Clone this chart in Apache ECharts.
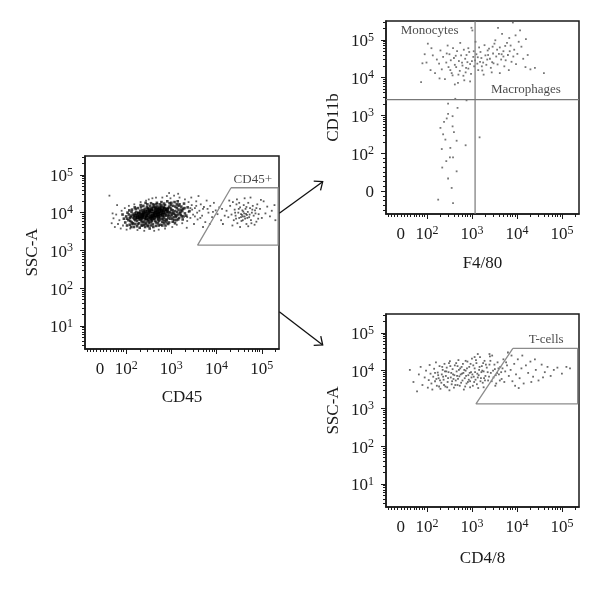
<!DOCTYPE html>
<html><head><meta charset="utf-8">
<script src="https://cdn.jsdelivr.net/npm/echarts@6/dist/echarts.min.js"></script>
<style>html,body{margin:0;padding:0;background:#fff}#c{width:600px;height:592px}</style>
</head><body><div id="c"></div>
<script>
// All coordinates are in log-decade display units of the (biexponential) cytometry scale.
// ---- Panel 1: SSC-A vs CD45 ----
const p1DeepCore = [[2.30,3.90],[2.35,3.95],[2.40,3.88],[2.42,4.02],[2.47,3.93],[2.50,3.99],[2.52,4.06],[2.55,3.90],[2.58,3.97],[2.60,4.04],[2.63,3.93],[2.66,4.00],[2.68,4.08],[2.70,3.95],[2.73,4.03],[2.76,3.98],[2.79,4.07],[2.82,4.01],[2.85,4.10],[2.45,3.85],[2.38,4.00],[2.33,3.86],[2.28,3.97],[2.25,3.88],[2.56,4.10],[2.62,3.86],[2.71,3.89],[2.80,3.94],[2.88,4.03],[2.91,4.08],[2.48,4.08],[2.53,3.84],[2.44,3.97],[2.65,4.12],[2.74,4.12],[2.20,3.92],[2.36,3.92],[2.59,3.91],[2.69,4.02],[2.77,4.05]];
const p1Core = [[2.05,3.80],[2.10,3.88],[2.12,3.75],[2.15,3.95],[2.18,3.83],[2.20,3.70],[2.22,4.02],[2.24,3.78],[2.27,3.92],[2.29,3.72],[2.31,4.05],[2.32,3.81],[2.34,3.66],[2.37,3.98],[2.39,3.76],[2.41,4.10],[2.43,3.70],[2.44,3.89],[2.46,4.15],[2.48,3.79],[2.49,3.64],[2.51,4.00],[2.53,4.18],[2.54,3.74],[2.56,3.86],[2.57,4.08],[2.59,3.69],[2.61,3.95],[2.62,4.20],[2.64,3.78],[2.65,4.05],[2.67,3.88],[2.69,4.16],[2.70,3.72],[2.72,3.99],[2.74,4.22],[2.75,3.82],[2.77,3.93],[2.79,4.14],[2.80,3.76],[2.82,4.05],[2.84,3.87],[2.86,4.20],[2.88,3.95],[2.90,3.80],[2.92,4.12],[2.94,4.00],[2.96,4.25],[2.98,3.90],[3.00,4.08],[3.02,3.84],[3.04,4.18],[3.06,3.97],[3.08,4.04],[3.10,3.88],[3.12,4.12],[3.15,3.95],[3.18,4.22],[3.20,4.02],[3.23,3.90],[3.26,4.10],[3.30,3.98],[2.00,3.90],[1.98,3.74],[2.03,4.00],[2.08,3.68],[2.13,4.08],[2.17,3.62],[2.23,3.87],[2.26,4.12],[2.30,3.60],[2.35,3.85],[2.38,4.18],[2.42,3.62],[2.47,4.22],[2.52,3.58],[2.55,4.25],[2.58,3.82],[2.60,3.62],[2.66,3.65],[2.68,4.26],[2.71,3.84],[2.76,3.68],[2.78,4.28],[2.83,3.72],[2.87,3.66],[2.91,4.30],[2.95,3.74],[2.99,4.20],[3.03,3.76],[3.07,4.28],[3.11,3.80],[3.14,4.30],[3.17,3.86],[3.22,4.16],[3.25,3.82],[3.28,4.24],[3.33,3.92],[3.36,4.14],[3.40,4.04],[2.14,3.70],[2.19,3.98],[2.28,3.82],[2.33,4.14],[2.40,3.68],[2.45,4.04],[2.50,3.72],[2.63,4.14],[2.73,3.78],[2.81,3.90],[2.85,3.78],[2.89,4.08],[2.93,3.86],[2.97,4.02],[3.01,3.94],[3.05,3.88],[3.09,4.16],[3.13,4.02],[3.16,4.08],[3.21,3.94],[3.24,4.04],[3.29,4.12],[1.95,3.84],[1.92,3.95],[2.02,3.66],[2.07,4.06],[2.11,3.92],[2.16,3.86],[2.21,4.10],[2.36,3.74],[2.53,3.92],[2.57,3.77],[2.64,3.92],[2.75,4.09],[2.83,4.16],[2.92,3.92]];
const p1CoreFill = [[2.02,3.84],[2.06,3.95],[2.09,3.78],[2.12,4.02],[2.15,3.72],[2.17,3.90],[2.20,3.80],[2.23,3.96],[2.26,3.70],[2.29,3.86],[2.31,3.98],[2.34,3.78],[2.37,3.90],[2.39,4.06],[2.41,3.82],[2.44,3.74],[2.46,3.92],[2.49,4.12],[2.51,3.86],[2.54,4.02],[2.56,3.80],[2.59,4.15],[2.61,3.84],[2.64,4.00],[2.66,3.74],[2.69,3.92],[2.71,4.10],[2.74,3.88],[2.76,4.16],[2.79,3.84],[2.81,3.98],[2.84,4.12],[2.87,3.92],[2.89,3.74],[2.92,4.02],[2.95,4.16],[2.97,3.84],[3.00,3.98],[3.03,4.06],[3.06,3.80],[3.09,3.94],[3.12,4.22],[3.15,3.82],[3.19,3.98],[3.22,4.08],[3.27,3.90],[2.08,3.86],[2.11,3.62],[2.19,4.14],[2.24,3.64],[2.32,4.20],[2.36,3.66],[2.43,4.26],[2.47,3.66],[2.55,3.66],[2.60,4.22],[2.67,4.22],[2.72,3.66],[2.80,3.66],[2.84,4.24],[2.93,3.70],[3.00,4.26],[3.08,3.72],[3.16,4.18],[2.27,4.00],[2.35,4.06],[2.50,3.77],[2.62,3.98],[2.70,3.80],[2.78,4.20],[2.88,3.82],[2.94,3.94],[3.04,4.00],[3.11,3.92],[2.40,3.94],[2.57,3.88],[2.73,3.94],[2.86,3.96],[2.22,3.84],[2.46,3.82],[2.52,4.04],[2.68,3.96],[2.82,3.82],[2.98,4.12]];
const p1Halo = [[1.68,3.72],[1.72,3.85],[1.75,3.62],[1.78,3.95],[1.82,3.70],[1.85,3.80],[1.88,3.58],[1.90,4.05],[1.93,3.66],[1.97,4.12],[2.01,3.55],[2.06,4.18],[2.09,3.58],[2.18,4.22],[2.25,3.54],[2.32,4.28],[2.40,3.52],[2.44,4.32],[2.50,4.35],[2.58,4.38],[2.66,4.40],[2.62,3.52],[2.72,3.55],[2.80,4.40],[2.86,3.58],[2.90,4.44],[2.98,4.38],[3.02,3.62],[3.06,4.45],[3.12,3.68],[3.18,4.40],[3.24,3.72],[3.30,4.35],[3.35,3.78],[3.38,4.28],[3.42,3.86],[3.45,4.20],[3.48,3.95],[3.52,4.12],[3.55,4.30],[3.58,3.82],[3.62,4.05],[3.65,4.22],[3.68,3.92],[3.72,4.15],[3.75,3.75],[3.78,4.32],[3.82,4.00],[3.86,4.18],[3.90,3.88],[3.94,4.26],[3.98,4.06],[4.02,3.96],[4.06,4.14],[3.44,4.40],[3.60,4.44],[3.34,3.60],[3.50,3.70],[3.15,4.50],[2.95,4.52],[3.70,3.62],[3.85,3.70],[1.80,4.20],[1.70,3.98],[3.38,4.02],[3.46,4.08],[3.52,3.90],[3.57,4.00],[3.64,3.86],[3.70,4.10],[3.35,3.88],[3.42,4.12],[3.55,4.18],[3.80,4.10],[3.92,4.02],[1.63,4.45],[4.10,3.80]];
const p1Positive = [[4.22,4.05],[4.26,3.88],[4.30,4.18],[4.33,3.95],[4.36,4.28],[4.38,3.80],[4.40,4.08],[4.42,3.92],[4.44,4.22],[4.46,3.72],[4.48,4.00],[4.50,3.86],[4.52,4.14],[4.54,3.96],[4.55,3.78],[4.57,4.06],[4.58,3.90],[4.60,4.20],[4.61,3.98],[4.63,3.84],[4.64,4.10],[4.66,3.70],[4.67,3.94],[4.69,4.02],[4.70,4.26],[4.72,3.88],[4.74,4.12],[4.76,3.80],[4.78,4.00],[4.80,4.18],[4.82,3.92],[4.85,4.06],[4.88,3.76],[4.90,4.22],[4.93,3.96],[4.96,4.10],[5.00,3.86],[5.04,4.30],[5.08,3.98],[5.12,4.16],[5.18,3.90],[5.22,4.05],[4.45,4.35],[4.62,4.38],[4.75,4.40],[4.35,3.66],[4.52,3.62],[4.70,3.64],[4.84,3.68],[4.98,4.34],[4.56,3.94],[4.59,4.03],[4.62,3.90],[4.65,3.97],[4.68,3.86],[4.54,3.88],[4.49,4.10],[4.41,4.00],[4.73,3.95],[4.79,4.08],[4.86,3.98],[4.92,3.84],[4.28,4.32],[4.18,3.92],[4.12,4.10],[4.14,3.70],[5.28,4.20],[5.30,3.80],[4.58,3.80],[4.66,4.15],[4.50,4.26],[4.43,3.84],[4.77,3.72],[4.88,4.12]];
const gateCD45 = [[4.32,4.66],[5.36,4.66],[5.36,3.14],[3.58,3.14],[4.32,4.66]];

// ---- Panel 2: CD11b vs F4/80 ----
const p2Upper = [[1.87,3.88],[1.90,4.38],[1.99,4.40],[2.02,4.90],[2.08,4.20],[2.13,4.59],[2.18,4.12],[2.22,4.48],[2.27,4.37],[2.30,4.72],[2.33,4.22],[2.36,4.55],[2.40,3.96],[2.43,4.40],[2.46,4.85],[2.48,4.28],[2.50,4.62],[2.53,4.46],[2.55,4.12],[2.57,4.06],[2.60,4.52],[2.62,4.34],[2.65,4.28],[2.67,4.70],[2.69,3.86],[2.71,4.44],[2.73,4.18],[2.76,4.59],[2.78,4.40],[2.79,4.32],[2.81,4.05],[2.83,3.93],[2.85,4.50],[2.87,4.26],[2.90,4.41],[2.92,4.78],[2.94,4.68],[2.96,4.36],[2.98,4.10],[3.01,5.25],[3.03,4.55],[3.05,4.30],[3.07,4.46],[3.10,4.62],[3.12,4.37],[3.14,4.20],[3.16,4.80],[3.19,4.68],[3.21,4.52],[3.23,4.19],[3.25,4.40],[3.28,4.86],[3.30,4.59],[3.32,4.34],[3.35,4.72],[3.38,4.77],[3.40,4.50],[3.42,4.26],[3.45,4.41],[3.47,4.64],[3.50,4.90],[3.52,4.99],[3.54,4.56],[3.57,4.35],[3.60,4.63],[3.62,4.80],[3.65,4.48],[3.67,5.16],[3.70,4.70],[3.72,4.30],[3.75,4.46],[3.78,4.92],[3.80,4.60],[3.83,5.05],[3.86,4.85],[3.88,4.42],[3.91,5.46],[3.94,4.74],[3.97,5.12],[4.01,4.63],[4.04,4.95],[4.07,5.25],[4.10,4.82],[4.14,4.50],[4.19,4.28],[4.24,4.60],[4.30,4.22],[4.40,4.26],[2.99,5.32],[3.58,5.32],[2.58,4.78],[2.74,4.92],[2.88,4.60],[3.08,4.95],[3.26,4.08],[3.44,4.14],[3.62,4.12],[3.82,4.20],[3.98,4.36],[2.44,4.64],[2.64,4.58],[2.82,4.74],[3.00,4.44],[3.18,4.42],[3.36,4.60],[3.48,4.38],[3.66,4.62],[3.84,4.70],[2.70,4.08],[2.92,4.24],[3.13,4.54],[3.34,4.48],[3.56,4.74],[3.74,4.84],[2.52,4.20],[2.86,4.14],[3.04,4.70],[3.22,4.30],[3.46,4.82],[3.70,4.56],[3.92,4.56],[2.10,4.78],[2.28,3.98],[2.62,3.82],[2.96,3.90],[1.95,4.62],[4.60,4.12],[4.20,5.02]];
const p2Lower = [[2.47,3.31],[2.63,3.44],[2.47,3.04],[2.57,2.98],[2.88,3.40],[2.30,2.67],[2.57,2.71],[2.38,2.83],[2.41,2.36],[2.66,2.33],[2.33,2.11],[2.52,2.14],[2.51,1.89],[2.58,1.89],[2.86,2.21],[3.17,2.42],[2.43,1.79],[2.47,1.33],[2.66,1.52],[2.55,1.08],[2.25,0.77],[2.58,0.68],[2.36,2.50],[2.44,2.92],[2.60,2.56],[2.34,1.62],[2.68,3.20]];
const quadF480 = 3.07;   // vertical quadrant gate (F4/80)
const quadCD11b = 3.42;  // horizontal quadrant gate (CD11b)

// ---- Panel 3: SSC-A vs CD4/8 ----
const p3Cells = [[1.62,4.02],[1.70,3.70],[1.78,3.45],[1.82,3.90],[1.86,4.10],[1.90,3.62],[1.95,3.82],[1.98,4.00],[2.02,3.55],[2.04,3.75],[2.06,4.15],[2.08,3.92],[2.10,3.66],[2.12,3.50],[2.14,3.84],[2.16,4.05],[2.18,3.72],[2.20,4.22],[2.22,3.60],[2.24,3.95],[2.26,3.80],[2.28,4.12],[2.30,3.52],[2.32,3.68],[2.33,3.90],[2.35,4.02],[2.37,3.76],[2.39,4.18],[2.41,3.58],[2.42,3.86],[2.44,4.08],[2.46,3.70],[2.48,3.96],[2.50,3.48],[2.51,4.25],[2.53,3.82],[2.55,3.64],[2.57,4.04],[2.58,3.90],[2.60,3.55],[2.62,4.14],[2.64,3.74],[2.66,3.98],[2.68,3.62],[2.70,4.28],[2.72,3.85],[2.74,4.06],[2.76,3.68],[2.78,3.92],[2.80,4.18],[2.82,3.50],[2.84,3.80],[2.86,4.00],[2.88,3.66],[2.90,4.24],[2.92,3.88],[2.94,4.10],[2.96,3.72],[2.98,3.96],[3.00,4.32],[3.02,3.60],[3.04,3.84],[3.06,4.06],[3.08,3.76],[3.10,4.20],[3.12,3.92],[3.14,3.54],[3.16,4.02],[3.18,4.36],[3.20,3.80],[3.22,4.12],[3.24,3.68],[3.26,3.98],[3.28,4.26],[3.30,3.86],[3.33,4.08],[3.36,3.74],[3.39,4.16],[3.42,3.94],[3.45,4.40],[3.48,3.82],[3.51,4.04],[3.54,3.66],[3.57,4.22],[3.60,3.90],[3.63,4.10],[3.66,3.78],[3.70,4.30],[3.74,3.98],[3.78,4.14],[3.82,3.86],[2.25,3.88],[2.29,3.74],[2.34,4.10],[2.38,3.62],[2.43,3.98],[2.47,3.80],[2.52,4.12],[2.56,3.72],[2.61,3.88],[2.65,4.20],[2.69,3.78],[2.73,3.60],[2.77,4.10],[2.81,3.94],[2.85,3.58],[2.89,4.06],[2.93,3.76],[2.97,4.18],[3.01,3.90],[3.05,3.70],[3.09,4.28],[3.13,3.82],[3.17,4.10],[3.21,3.96],[3.25,4.20],[3.29,3.74],[3.35,3.96],[3.41,4.26],[3.47,4.00],[3.53,3.88],[3.59,4.06],[3.65,3.96],[2.36,3.84],[2.40,3.98],[2.54,3.94],[2.59,3.78],[2.63,3.62],[2.67,3.86],[2.71,4.02],[2.75,3.90],[2.79,3.74],[2.83,4.02],[2.87,3.86],[2.91,3.70],[2.95,3.94],[2.99,3.82],[3.03,4.14],[3.07,3.96],[3.11,3.64],[3.15,3.88],[3.19,3.72],[3.23,4.00],[3.27,3.80],[3.31,4.16],[3.38,3.84],[3.44,3.72],[3.50,4.16],[3.56,3.94],[3.62,3.74],[3.68,4.06],[2.18,3.94],[2.21,3.78],[2.27,3.58],[2.45,3.56],[2.49,4.20],[2.68,4.12],[2.86,4.26],[2.96,3.56],[3.06,4.36],[3.26,3.56],[3.40,4.38],[3.52,3.60],[3.72,3.70],[3.76,4.22],[3.86,4.02],[3.90,3.72],[3.94,4.18],[3.98,3.90],[4.02,4.30],[4.06,3.80],[4.10,4.06],[4.15,3.66],[4.20,4.14],[4.25,3.94],[4.30,4.24],[4.36,3.84],[4.42,4.02],[4.48,3.74],[4.55,4.16],[4.62,3.96],[4.68,4.10],[4.75,3.86],[4.82,4.02],[4.90,4.08],[5.00,3.92],[5.10,4.10],[5.18,4.06],[3.88,4.40],[3.96,3.60],[4.12,4.40],[4.04,3.54],[4.40,4.30],[4.58,3.82],[4.32,3.70],[3.13,4.44],[3.39,4.44],[3.80,4.48]];
const gateTcells = [[3.91,4.59],[5.35,4.59],[5.35,3.12],[3.09,3.12],[3.91,4.59]];

// ---- Text ----
const gateLabels1 = [[4.80,4.87,'CD45+']];
const gateLabels2 = [[2.06,5.25,'Monocytes'],[4.20,3.69,'Macrophages']];
const gateLabels3 = [[4.65,4.83,'T-cells']];
const axisTitles = {p1:['CD45','SSC-A'], p2:['F4/80','CD11b'], p3:['CD4/8','SSC-A']};

// ---- Scales / ticks ----
const X_MIN = 1.09, X_MAX = 5.38, Y_MIN = 0.39, Y_MAX = 5.5;
const xLabelValues = [1.42, 2, 3, 4, 5];      // 0, 10^2 .. 10^5
const xMajorTicks = [2, 3, 4, 5];
const xLowTicks = [1.13,1.2,1.27,1.34,1.42,1.5,1.57,1.64,1.71,1.77,1.83,1.89,1.94];
const yLabelValuesLog = [1, 2, 3, 4, 5];       // 10^1 .. 10^5
const yLabelValuesBi = [1, 2, 3, 4, 5];        // 0, 10^2 .. 10^5
const yLowTicksBi = [0.5,0.62,0.75,0.87,1.0,1.13,1.25,1.38,1.5,1.62,1.75,1.87];

function logMinor(from, to, startDecade) {
  const out = [];
  for (let d = startDecade; d <= 5; d++) for (let k = 2; k <= 9; k++) {
    const v = d + Math.log10(k); if (v > from && v < to) out.push(v);
  }
  return out;
}
const xMinor = xLowTicks.concat(logMinor(X_MIN, X_MAX, 2));
const yMinorLog = logMinor(Y_MIN, Y_MAX, 0);
const yMinorBi = yLowTicksBi.concat(logMinor(2, Y_MAX, 2));

const F = "'Liberation Serif','DejaVu Serif',serif";
const INK = '#1a1a1a';
const rich = {
  b: {fontFamily: F, fontSize: 17, color: INK, lineHeight: 24},
  s: {fontFamily: F, fontSize: 12, color: INK, height: 15, lineHeight: 15, verticalAlign: 'top'}
};
const fmtX = v => v < 1.9 ? '{b|0}' : '{b|10}{s|' + Math.round(v) + '}';
const fmtYLog = v => '{b|10}{s|' + Math.round(v) + '}';
const fmtYBi = v => v < 1.5 ? '{b|0}' : '{b|10}{s|' + Math.round(v) + '}';

function xAxesFor(g, name, gap) {
  return [{
    type: 'value', gridIndex: g, position: 'bottom', min: X_MIN, max: X_MAX,
    name: name, nameLocation: 'middle', nameGap: gap,
    nameTextStyle: {fontFamily: F, fontSize: 17, color: INK},
    axisLine: {show: true, onZero: false, lineStyle: {color: INK, width: 1.5}},
    axisTick: {show: true, customValues: xMajorTicks, length: 5, lineStyle: {color: INK, width: 1}},
    axisLabel: {customValues: xLabelValues, formatter: fmtX, rich: rich, margin: 9, fontFamily: F},
    splitLine: {show: false}
  }, {
    type: 'value', gridIndex: g, position: 'bottom', min: X_MIN, max: X_MAX,
    axisLine: {show: false},
    axisTick: {show: true, customValues: xMinor, length: 3, lineStyle: {color: INK, width: 1}},
    axisLabel: {show: false}, splitLine: {show: false}
  }];
}
function yAxesFor(g, name, gap, labels, fmt, minor) {
  return [{
    type: 'value', gridIndex: g, position: 'left', min: Y_MIN, max: Y_MAX,
    name: name, nameLocation: 'middle', nameGap: gap,
    nameTextStyle: {fontFamily: F, fontSize: 17, color: INK},
    axisLine: {show: true, onZero: false, lineStyle: {color: INK, width: 1.5}},
    axisTick: {show: true, customValues: [1, 2, 3, 4, 5], length: 5, lineStyle: {color: INK, width: 1}},
    axisLabel: {customValues: labels, formatter: fmt, rich: rich, margin: 12, padding: [4, 0, 0, 0], fontFamily: F},
    splitLine: {show: false}
  }, {
    type: 'value', gridIndex: g, position: 'left', min: Y_MIN, max: Y_MAX,
    axisLine: {show: false},
    axisTick: {show: true, customValues: minor, length: 3, lineStyle: {color: INK, width: 1}},
    axisLabel: {show: false}, splitLine: {show: false}
  }];
}

function dots(g, data, size, color) {
  return {type: 'scatter', xAxisIndex: 2 * g, yAxisIndex: 2 * g, data: data, symbol: 'rect',
    symbolSize: size, itemStyle: {color: color}, silent: true, animation: false};
}
function poly(g, data, color) {
  return {type: 'line', xAxisIndex: 2 * g, yAxisIndex: 2 * g, data: data, symbol: 'none',
    lineStyle: {color: color, width: 1.3}, silent: true, animation: false, z: 5};
}
function texts(g, data) {
  return {type: 'scatter', xAxisIndex: 2 * g, yAxisIndex: 2 * g, data: data, symbolSize: 0.1,
    itemStyle: {color: 'transparent'}, silent: true, animation: false, z: 6,
    label: {show: true, position: 'inside', formatter: p => p.data[2],
      fontFamily: F, fontSize: 13, color: INK}};
}

function arrow(x1, y1, x2, y2) {
  const a = Math.atan2(y2 - y1, x2 - x1), L = 9, w = 0.7;
  return [
    {type: 'line', shape: {x1, y1, x2, y2}, style: {stroke: '#111', lineWidth: 1.3}},
    {type: 'polyline', shape: {points: [
      [x2 - L * Math.cos(a - w), y2 - L * Math.sin(a - w)], [x2, y2],
      [x2 - L * Math.cos(a + w), y2 - L * Math.sin(a + w)]]},
      style: {stroke: '#111', lineWidth: 1.3, fill: null}}
  ];
}

const gridStyle = {show: true, borderColor: INK, borderWidth: 1.5, backgroundColor: 'transparent', containLabel: false};
const option = {
  backgroundColor: '#fff',
  animation: false,
  grid: [
    Object.assign({left: 85, top: 156, width: 194, height: 193}, gridStyle),
    Object.assign({left: 386, top: 21, width: 193, height: 193}, gridStyle),
    Object.assign({left: 386, top: 314, width: 193, height: 193}, gridStyle)
  ],
  xAxis: [].concat(xAxesFor(0, axisTitles.p1[0], 40), xAxesFor(1, axisTitles.p2[0], 41), xAxesFor(2, axisTitles.p3[0], 43)),
  yAxis: [].concat(
    yAxesFor(0, axisTitles.p1[1], 44, yLabelValuesLog, fmtYLog, yMinorLog),
    yAxesFor(1, axisTitles.p2[1], 44, yLabelValuesBi, fmtYBi, yMinorBi),
    yAxesFor(2, axisTitles.p3[1], 44, yLabelValuesLog, fmtYLog, yMinorLog)),
  series: [
    dots(0, p1Halo, 1.8, '#3a3a3a'),
    dots(0, p1Core, 2.6, '#111'),
    dots(0, p1CoreFill, 2.6, '#111'),
    dots(0, p1DeepCore, 3.6, '#000'),
    dots(0, p1Positive, 1.8, '#333'),
    poly(0, gateCD45, '#8c8c8c'),
    texts(0, gateLabels1),
    dots(1, p2Upper, 1.8, '#555'),
    dots(1, p2Lower, 1.8, '#555'),
    {type: 'line', xAxisIndex: 2, yAxisIndex: 2, symbol: 'none', silent: true, animation: false, z: 5,
     data: [[quadF480, Y_MIN], [quadF480, Y_MAX]], lineStyle: {color: '#777', width: 1.2}},
    {type: 'line', xAxisIndex: 2, yAxisIndex: 2, symbol: 'none', silent: true, animation: false, z: 5,
     data: [[X_MIN, quadCD11b], [X_MAX, quadCD11b]], lineStyle: {color: '#777', width: 1.2}},
    texts(1, gateLabels2),
    dots(2, p3Cells, 1.8, '#444'),
    poly(2, gateTcells, '#8c8c8c'),
    texts(2, gateLabels3)
  ],
  graphic: [].concat(arrow(279.3, 213.3, 322.7, 181.7), arrow(279.3, 311.7, 322.7, 345))
};
const chart = echarts.init(document.getElementById('c'), null, {renderer: 'canvas'});
chart.setOption(option);
</script></body></html>
